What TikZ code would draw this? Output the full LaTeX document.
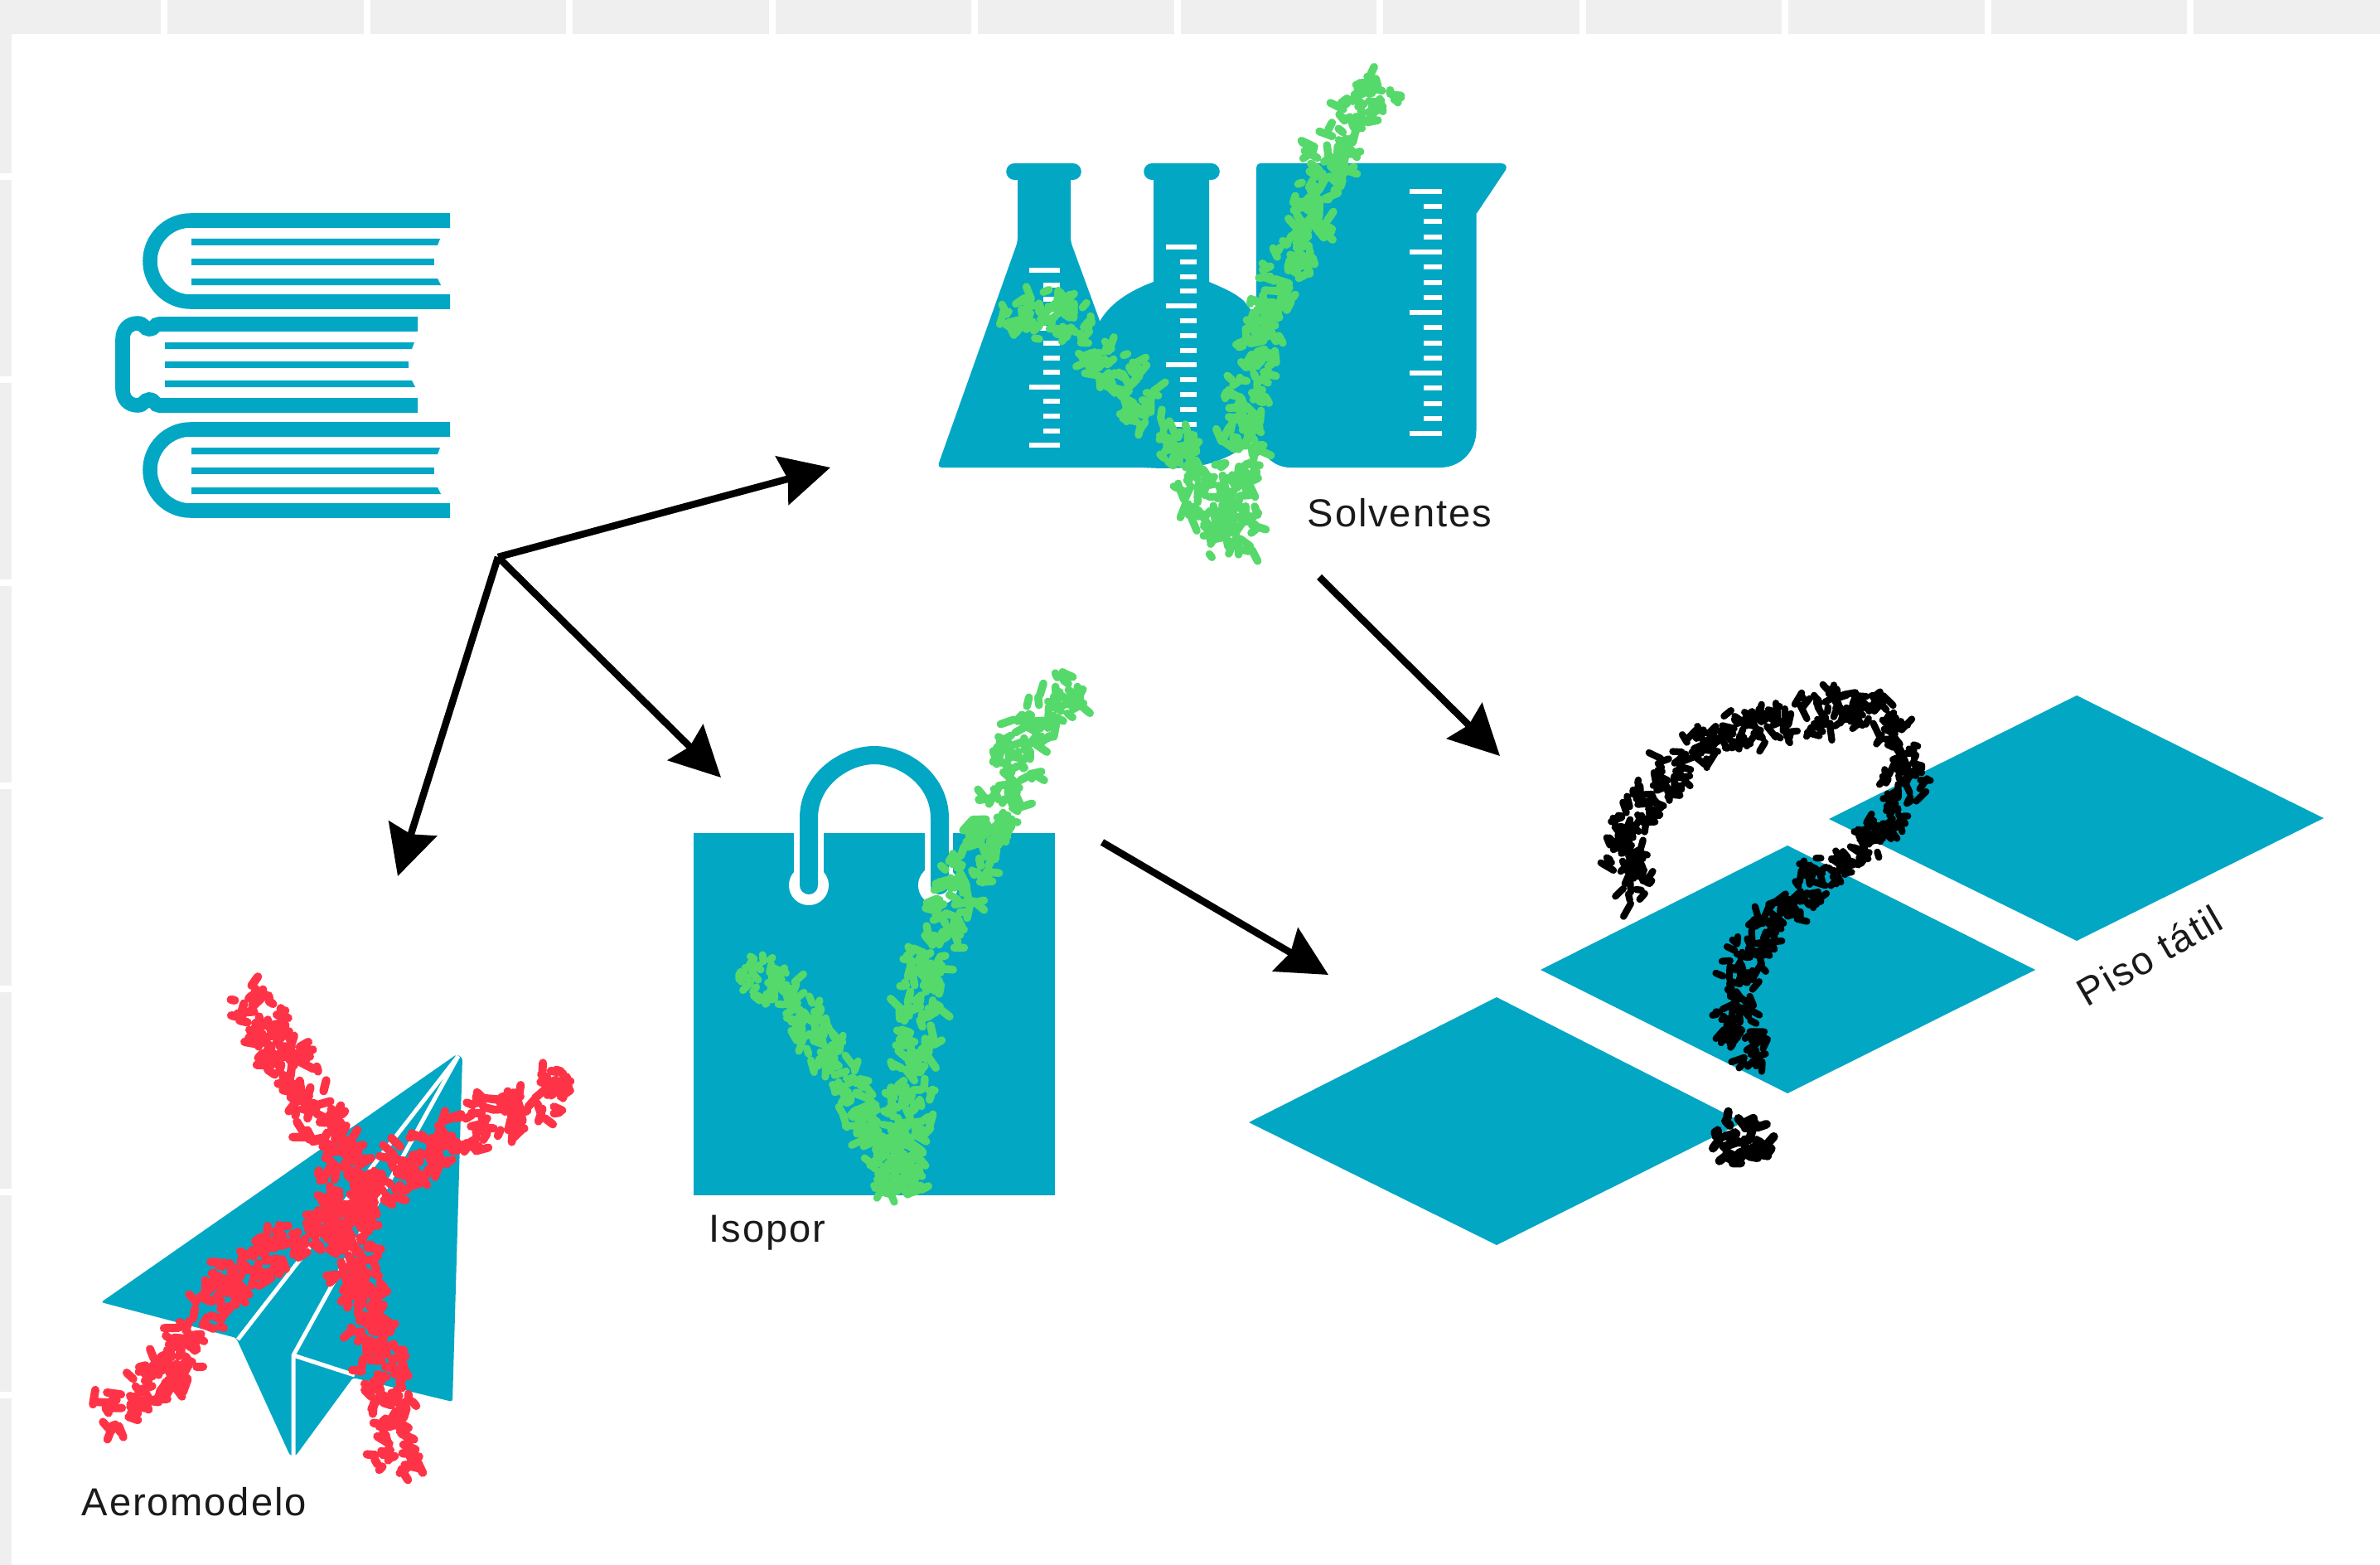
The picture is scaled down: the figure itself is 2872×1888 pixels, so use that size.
\documentclass[tikz,border=0pt]{standalone}
\usepackage{fontspec}
\setmainfont{Liberation Sans}
\newfontfamily\labelfont[LetterSpace=4]{Liberation Sans}
\usetikzlibrary{arrows.meta}
\definecolor{tealc}{HTML}{02A7C4}
\definecolor{greenc}{HTML}{56D96B}
\definecolor{redc}{HTML}{FF3347}
\definecolor{bgc}{HTML}{EFEFEF}
\definecolor{textc}{HTML}{1A1A1A}
\tikzset{
  px/.style={x=0.01cm,y=-0.01cm},
  tick/.style={fill=white,draw=none},
  flow/.style={draw=black,line width=0.085cm,-{Stealth[length=0.6cm,width=0.6cm,inset=0.07cm]}},
  lbl/.style={font=\fontsize{13.4pt}{16pt}\labelfont,text=textc,inner sep=0pt,anchor=base west},
  cover/.style={draw=tealc,line width=0.175cm},
  lipline/.style={draw=tealc,line width=0.196cm,line cap=round},
  crease/.style={draw=white,line width=0.05cm,line join=round},
}
% colour, full width in px, list of x/y points: a band of short random dabs
\newcommand{\crayon}[3]{%
  \pgfmathsetmacro{\crW}{#2*0.16*0.01}%
  \foreach \xa/\ya [remember=\xa as \xp (initially 0),remember=\ya as \yp (initially 0),count=\crC] in {#3}{%
    \ifnum\crC>1
      \pgfmathsetmacro{\crL}{veclen(\xa-\xp,\ya-\yp)}%
      \pgfmathsetmacro{\crNx}{-(\ya-\yp)/\crL}%
      \pgfmathsetmacro{\crNy}{(\xa-\xp)/\crL}%
      \pgfmathtruncatemacro{\crN}{max(2,\crL*0.5)}%
      \draw[draw=#1,line width=\crW cm,line cap=round]
        \foreach \j in {1,...,\crN}{%
          \pgfextra{%
            \pgfmathsetmacro{\crT}{rnd}%
            \pgfmathsetmacro{\crO}{rand*#2*0.42}%
            \pgfmathsetmacro{\crA}{rnd*360}%
            \pgfmathsetmacro{\crD}{4+rnd*14}%
            \pgfmathsetmacro{\crPx}{\xp+(\xa-\xp)*\crT+\crNx*\crO}%
            \pgfmathsetmacro{\crPy}{\yp+(\ya-\yp)*\crT+\crNy*\crO}%
            \pgfmathsetmacro{\crQx}{\crPx+\crD*cos(\crA)}%
            \pgfmathsetmacro{\crQy}{\crPy+\crD*sin(\crA)}%
          }
          (\crPx,\crPy) -- (\crQx,\crQy)
        };
    \fi
  }%
}
% x0, xend, y of the first line, y of the middle line
\newcommand{\pagelines}[4]{%
  \fill[tealc] (#1,#3-4) -- (#2+7,#3-4) -- (#2+4,#3+4) -- (#1,#3+4) -- cycle;
  \fill[tealc] (#1,#4-4) -- (#2,#4-4) -- (#2,#4+4) -- (#1,#4+4) -- cycle;
  \fill[tealc] (#1,2*#4-#3-4) -- (#2+4,2*#4-#3-4) -- (#2+8,2*#4-#3+4) -- (#1,2*#4-#3+4) -- cycle;
}
\begin{document}
\begin{tikzpicture}[px]
\useasboundingbox (0,0) rectangle (2872,1888);
% background
\fill[bgc] (0,0) rectangle (2872,1888);
\foreach \k in {0,...,10}{\fill[white] ({198+244.5*\k-4},0) rectangle ({198+244.5*\k+4},41);}
\foreach \k in {0,...,6}{\fill[white] (0,{213+245*\k-4}) rectangle (14,{213+245*\k+4});}
\fill[white] (14,41) rectangle (2872,1888);

% books
\draw[cover] (543,266) -- (230,266) .. controls (203,266) and (181,288) .. (181,315) .. controls (181,342) and (203,364) .. (230,364) -- (543,364);
\pagelines{231}{524}{292}{316}
\draw[cover] (504,391) -- (192,391) .. controls (186,391) and (187,397) .. (180,397) .. controls (174,397) and (174,390) .. (166,390) .. controls (155,390) and (148,398) .. (148,409) -- (148,470) .. controls (148,481) and (155,489) .. (166,489) .. controls (174,489) and (174,482) .. (180,482) .. controls (187,482) and (186,489) .. (192,489) -- (504,489);
\pagelines{199}{493}{417}{440}
\draw[cover] (543,518) -- (230,518) .. controls (203,518) and (181,540) .. (181,567) .. controls (181,594) and (203,616) .. (230,616) -- (543,616);
\pagelines{231}{524}{544}{568}

% glassware
\draw[lipline] (1224,207) -- (1295,207);
\draw[lipline] (1390,207) -- (1462,207);
\fill[tealc,rounded corners=0.05cm] (1228,207) -- (1228,291.5) -- (1131,564) -- (1392,564) -- (1292,291.5) -- (1292,207) -- cycle;
\fill[tealc] (1392,207) -- (1392,340) .. controls (1360,352) and (1338,368) .. (1327,388) -- (1340,480) -- (1380,564) .. controls (1410,566) and (1440,565) .. (1460,559) .. controls (1480,553) and (1495,544) .. (1503,538) -- (1530,520) -- (1530,400) -- (1501,363) .. controls (1490,353) and (1475,347) .. (1459,340) -- (1459,207) -- cycle;
\fill[tealc] (1516,204) .. controls (1516,199) and (1518,197) .. (1522,197) -- (1811,197) .. controls (1817,197) and (1819,201) .. (1817,205) -- (1781.5,258) -- (1781.5,519) .. controls (1781.5,545) and (1762,564) .. (1738,564) -- (1557,564) .. controls (1535,564) and (1519,545) .. (1516,523) -- cycle;
% graduation marks
\foreach \k in {0,...,12}{
  \pgfmathsetmacro{\yy}{326+17.6*\k}
  \pgfmathtruncatemacro{\lng}{mod(\k,4)==0}
  \ifnum\lng=1 \fill[tick] (1242,\yy-3) rectangle (1278.5,\yy+3); \else \fill[tick] (1258.5,\yy-3) rectangle (1278.5,\yy+3); \fi
  \pgfmathsetmacro{\yz}{298+17.8*\k}
  \ifnum\lng=1 \fill[tick] (1407,\yz-3) rectangle (1444,\yz+3); \else \fill[tick] (1424,\yz-3) rectangle (1444,\yz+3); \fi
}
\foreach \k in {0,...,16}{
  \pgfmathsetmacro{\yy}{231+18.25*\k}
  \pgfmathtruncatemacro{\lng}{mod(\k,4)==0}
  \ifnum\lng=1 \fill[tick] (1701.4,\yy-3) rectangle (1740,\yy+3); \else \fill[tick] (1718,\yy-3) rectangle (1740,\yy+3); \fi
}
\pgfmathsetseed{4711}
\crayon{greenc}{58}{1225/405,1232/378,1253/368,1275/376,1294/392,1335/435,1386/498,1427/552,1458/615,1483/662}
\crayon{greenc}{60}{1676/98,1616/157,1590/228,1570/296,1539/355,1514/418,1503/481,1496/536,1498/607,1486/662}
\node[lbl] (solventes) at (1577,635) {Solventes};

% bag
\fill[tealc] (837,1005) rectangle (1272.5,1441.6);
\fill[white] (958,1005) rectangle (994,1068);
\fill[white] (1116,1005) rectangle (1150,1068);
\fill[white] (976,1068) circle[radius=0.24cm];
\fill[white] (1132,1068) circle[radius=0.24cm];
\draw[draw=tealc,line width=0.22cm,line cap=round] (976,1068) -- (976,987) .. controls (976,940) and (1020,911) .. (1055,911) .. controls (1090,911) and (1134,940) .. (1134,987) -- (1134,1068);
\crayon{greenc}{56}{900/1162,961/1216,1014/1294,1057/1377,1084/1440}
\crayon{greenc}{60}{1302/824,1239/886,1200/982,1157/1074,1114/1170,1100/1285,1096/1377,1086/1440}
\node[lbl] (isopor) at (855,1498) {Isopor};

% paper plane
\fill[tealc,rounded corners=0.03cm] (551,1272) -- (122,1571) -- (285,1614) -- (350,1756) -- (357,1756) -- (426,1662) -- (546,1691) -- (558,1276) -- cycle;
\draw[crease] (553,1274) -- (287,1616);
\draw[crease] (553,1274) -- (354,1635) -- (354,1758);
\draw[crease] (354,1635) -- (428,1659);
\crayon{redc}{62}{122/1716,216/1645,274/1544,395/1475,506/1397,596/1347,687/1312}
\crayon{redc}{64}{297/1192,332/1255,381/1333,413/1415,422/1489,448/1599,471/1691,480/1775}
\node[lbl] (aero) at (98,1828) {Aeromodelo};

% floor tiles
\fill[tealc] (1507,1354) -- (1806,1203) -- (2103,1354) -- (1806,1502) -- cycle;
\fill[tealc] (1859,1170) -- (2157,1020) -- (2456,1170) -- (2157,1319) -- cycle;
\fill[tealc] (2207,988) -- (2506,839) -- (2804,987) -- (2506,1135) -- cycle;
\crayon{black}{52}{1985/1078,1965/1060,1960/1004,1995/951,2071/886,2155/869,2243/849,2280/870,2293/894,2297/955,2263/1012,2186/1069,2117/1139,2087/1208,2110/1261,2136/1272}
\crayon{black}{66}{2070/1376,2134/1376}
\node[lbl,rotate=30] (piso) at (2518,1216) {Piso tátil};

% connectors
\coordinate (hub) at (601,672);
\coordinate (toSolv) at (1002,564);
\coordinate (toIso) at (870,938);
\coordinate (toAero) at (480,1057);
\coordinate (fromSolv) at (1592,696);
\coordinate (solvPiso) at (1810,912);
\coordinate (fromIso) at (1330,1016);
\coordinate (isoPiso) at (1603,1176);
\draw[flow] (hub) -- (toSolv);
\draw[flow] (hub) -- (toIso);
\draw[flow] (hub) -- (toAero);
\draw[flow] (fromSolv) -- (solvPiso);
\draw[flow] (fromIso) -- (isoPiso);
\end{tikzpicture}
\end{document}
